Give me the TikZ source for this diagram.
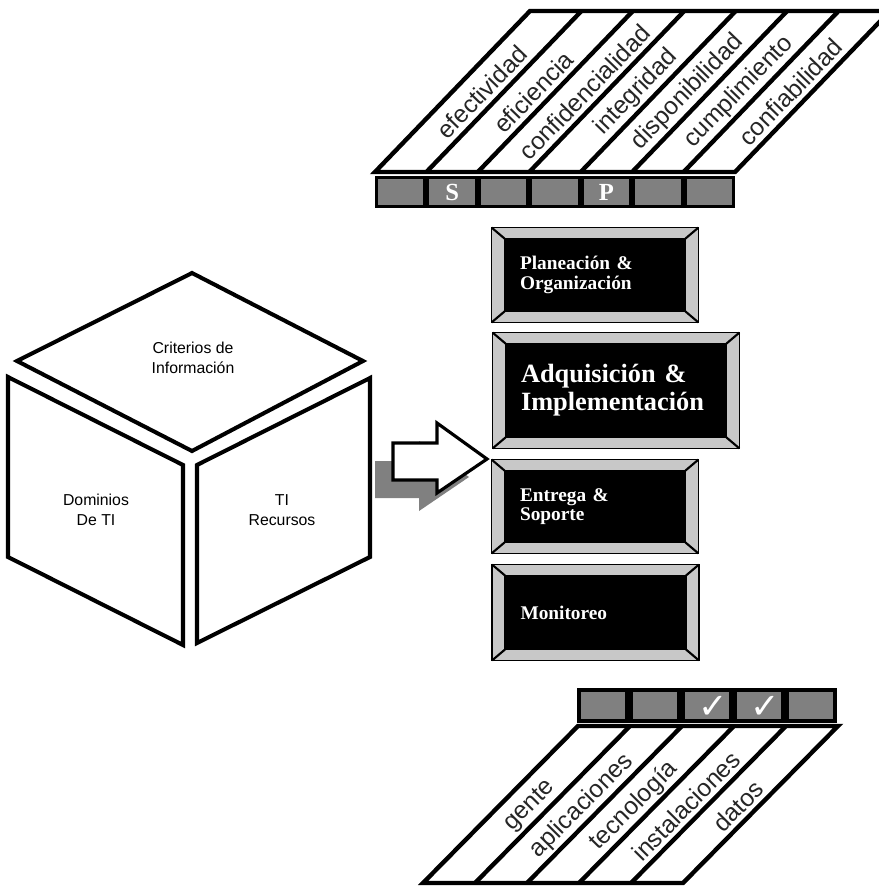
\documentclass[tikz,border=0pt]{standalone}
\usepackage{fontspec}
\setmainfont{Liberation Serif}
\setsansfont{Liberation Sans}
\newfontfamily\symfont{DejaVu Sans}
\usepackage{tikz}
\usetikzlibrary{calc}

\definecolor{cellgray}{RGB}{128,128,128}
\definecolor{bevelgray}{RGB}{200,200,200}

\tikzset{
  stripline/.style={line width=2.5pt},
  cubeface/.style={line width=2.3pt, fill=white},
  cubelabel/.style={font=\sffamily\fontsize{9}{11}\selectfont, align=center},
  toplabel/.style={font=\sffamily\fontsize{14}{14}\selectfont, text=black!85, rotate=46, inner sep=0pt},
  botlabel/.style={font=\sffamily\fontsize{14}{14}\selectfont, text=black!85, rotate=45.3, inner sep=0pt},
  cellbox/.style={fill=cellgray, inner sep=0pt, text=white, font=\bfseries\fontsize{14}{14}\selectfont},
  domainbox/.style={fill=black, text=white, align=left, inner xsep=0.3cm, inner ysep=0pt, text width=3.0cm, minimum width=3.6cm, font=\bfseries\fontsize{11}{11}\selectfont},
  bevelframe/.style={draw=black, line width=0.9pt, fill=bevelgray, even odd rule},
  checkmark/.style={font=\symfont\fontsize{20}{20}\selectfont, text=white, inner sep=0pt},
}

\begin{document}
\begin{tikzpicture}[x=0.02cm, y=-0.02cm]
    \useasboundingbox (0,0) rectangle (879,886);

    % cube
    \draw[cubeface] (17,361) -- (192,273) -- (363,361) -- (192,451) -- cycle;
    \draw[cubeface] (8,377) -- (183,465) -- (183,645) -- (8,557) -- cycle;
    \draw[cubeface] (197,465) -- (370,378) -- (370,557) -- (197,643) -- cycle;
    \node[cubelabel] (crit) at (193,358) {Criterios de\\Información};
    \node[cubelabel] (dom) at (96,510) {Dominios\\De TI};
    \node[cubelabel] (rec) at (282,510) {TI\\Recursos};

    % block arrow with shadow
    \fill[cellgray, shift={(-18,18)}] (393,443) -- (437,443) -- (437,423) -- (487,459) -- (437,493) -- (437,480) -- (393,480) -- cycle;
    \draw[line width=1.8pt, fill=white] (393,443) -- (437,443) -- (437,423) -- (487,459) -- (437,493) -- (437,480) -- (393,480) -- cycle;

    % criteria strip
    \begin{scope}
    \clip (0,0) rectangle (879,886);
    \draw[stripline] (375,172) -- (530,11) -- (890,11) -- (735,172) -- cycle;
    \foreach \i in {1,...,6}
        \draw[stripline] ({375+51.43*\i},172) -- ++(155,-161);
    \end{scope}
    \foreach \t [count=\i from 0] in {efectividad,eficiencia,confidencialidad,integridad,disponibilidad,cumplimiento,confiabilidad}
        \node[toplabel] (crit\i) at ({482+51.43*\i},92) {\t};

    \fill (375,176) rectangle (735,208);
    \foreach \t [count=\i] in {{},S,{},{},P,{},{}}
        \node[cellbox, minimum width=0.908cm, minimum height=0.52cm] (c\i) at ({375+51.43*(\i-0.5)},192) {\t};

    % domains
    \node[domainbox, minimum height=1.44cm] (po) at (595,275) {Planeación \&\\Organización};
    \node[domainbox, text width=3.8cm, minimum width=4.4cm, minimum height=1.86cm, font=\bfseries\fontsize{15}{16}\selectfont] (ai) at (616,390.5) {Adquisición \&\\Implementación};
    \node[domainbox, minimum height=1.42cm] (ds) at (595,506.5) {Entrega \&\\Soporte};
    \node[domainbox, minimum height=1.46cm] (mo) at (595.5,612.5) {Monitoreo};
    \foreach \b in {po,ai,ds,mo} {
        \draw[bevelframe] ([shift={(-13,-11)}]\b.north west) rectangle ([shift={(13,11)}]\b.south east)
            (\b.north west) rectangle (\b.south east);
        \draw[line width=1.2pt] ([shift={(-13,-11)}]\b.north west) -- (\b.north west)
            ([shift={(13,-11)}]\b.north east) -- (\b.north east)
            ([shift={(13,11)}]\b.south east) -- (\b.south east)
            ([shift={(-13,11)}]\b.south west) -- (\b.south west);
    }

    % resources strip
    \fill (577,688) rectangle (837,723);
    \foreach \i in {1,...,5}
        \node[cellbox, minimum width=0.88cm, minimum height=0.54cm] (r\i) at ({577+52*(\i-0.5)},705.5) {};
    \node[checkmark] (ok3) at ([shift={(6,2)}]r3.center) {✓};
    \node[checkmark] (ok4) at ([shift={(6,2)}]r4.center) {✓};

    \draw[stripline] (578,726) -- (838,726) -- (683,883) -- (423,883) -- cycle;
    \foreach \i in {1,...,4}
        \draw[stripline] ({578+52*\i},726) -- ++(-155,157);
    \foreach \t [count=\i from 0] in {gente,aplicaciones,tecnología,instalaciones,datos}
        \node[botlabel] (res\i) at ({530+52*\i},806) {\t};
\end{tikzpicture}
\end{document}
